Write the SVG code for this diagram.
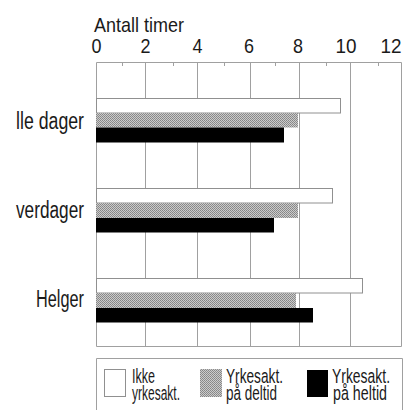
<svg xmlns="http://www.w3.org/2000/svg" width="406" height="410" viewBox="0 0 406 410">
<style>
text{font-family:"Liberation Sans",Arial,sans-serif;fill:#1a1a1a}
.ax{font-size:21px}
.num{font-size:21px}
.cat{font-size:23px}
.leg{font-size:20.5px}
.grid{stroke:#a0a0a0;stroke-width:1;fill:none}
.wbar{fill:#fff;stroke:#909090;stroke-width:1}
.gbar{fill:url(#dither)}
.bbar{fill:#000}
</style>
<defs>
<pattern id="dither" width="2" height="2" patternUnits="userSpaceOnUse">
<rect width="2" height="2" fill="#cbcbcb"/>
<rect width="1" height="1" fill="#858585"/>
<rect x="1" y="1" width="1" height="1" fill="#8e8e8e"/>
</pattern>
</defs>
<g id="axis">
<text class="ax" x="94" y="32" textLength="90" lengthAdjust="spacingAndGlyphs">Antall timer</text>
<text class="num" x="96.5" y="53" text-anchor="middle" textLength="10" lengthAdjust="spacingAndGlyphs">0</text>
<text class="num" x="145.5" y="53" text-anchor="middle" textLength="10" lengthAdjust="spacingAndGlyphs">2</text>
<text class="num" x="197.5" y="53" text-anchor="middle" textLength="10" lengthAdjust="spacingAndGlyphs">4</text>
<text class="num" x="249" y="53" text-anchor="middle" textLength="10" lengthAdjust="spacingAndGlyphs">6</text>
<text class="num" x="298" y="53" text-anchor="middle" textLength="10" lengthAdjust="spacingAndGlyphs">8</text>
<text class="num" x="346" y="53" text-anchor="middle" textLength="21" lengthAdjust="spacingAndGlyphs">10</text>
<text class="num" x="391" y="53" text-anchor="middle" textLength="21" lengthAdjust="spacingAndGlyphs">12</text>
</g>
<g id="grid">
<path class="grid" d="M96.5 62.5H401.5V346.5H96.5Z"/>
<path class="grid" d="M145.5 62.5V346.5M197.5 62.5V346.5M250.5 62.5V346.5M299.5 62.5V346.5M350.5 62.5V346.5"/>
<path class="grid" d="M122.5 62.5V66M173.5 62.5V66M224.5 62.5V66M275.5 62.5V66M326.5 62.5V66M378.5 62.5V66"/>
</g>
<g id="alle-dager">
<text class="cat" x="16" y="129" textLength="68" lengthAdjust="spacingAndGlyphs">lle dager</text>
<rect class="wbar" x="96.5" y="98.5" width="244" height="14.5"/>
<rect class="gbar" x="96" y="113" width="202" height="14.5"/>
<rect class="bbar" x="96" y="127.5" width="188" height="15"/>
</g>
<g id="hverdager">
<text class="cat" x="16" y="218" textLength="68" lengthAdjust="spacingAndGlyphs">verdager</text>
<rect class="wbar" x="96.5" y="188.5" width="236" height="14.5"/>
<rect class="gbar" x="96" y="203" width="202" height="15"/>
<rect class="bbar" x="96" y="218" width="178" height="14.5"/>
</g>
<g id="helger">
<text class="cat" x="36" y="307" textLength="48" lengthAdjust="spacingAndGlyphs">Helger</text>
<rect class="wbar" x="96.5" y="278.5" width="266" height="14.5"/>
<rect class="gbar" x="96" y="293" width="200" height="15"/>
<rect class="bbar" x="96" y="308" width="217" height="14.5"/>
</g>
<g id="legend">
<path class="grid" d="M96.5 411V358.5H402.5V411"/>
<rect class="wbar" x="104.5" y="369.5" width="21" height="27"/>
<text class="leg" x="132" y="383" textLength="23" lengthAdjust="spacingAndGlyphs">Ikke</text>
<text class="leg" x="132" y="400" textLength="48" lengthAdjust="spacingAndGlyphs">yrkesakt.</text>
<rect class="gbar" x="200" y="369" width="22" height="28"/>
<text class="leg" x="226" y="383" textLength="57" lengthAdjust="spacingAndGlyphs">Yrkesakt.</text>
<text class="leg" x="226" y="400" textLength="51" lengthAdjust="spacingAndGlyphs">på deltid</text>
<rect class="bbar" x="307" y="370" width="21" height="27"/>
<text class="leg" x="332" y="383" textLength="58" lengthAdjust="spacingAndGlyphs">Yrkesakt.</text>
<text class="leg" x="333" y="400" textLength="54" lengthAdjust="spacingAndGlyphs">på heltid</text>
</g>
</svg>
